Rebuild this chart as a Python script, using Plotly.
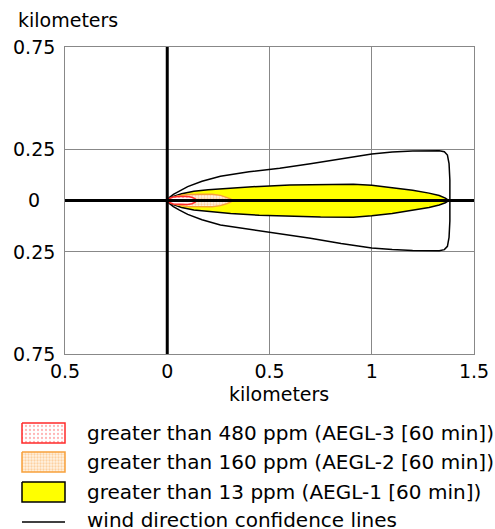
import plotly.graph_objects as go

W, H = 495, 529
FONT = "DejaVu Sans"

# ---------------- data (kilometers) ----------------
x_tickvals = [-0.5, 0, 0.5, 1, 1.5]
x_ticktext = ["0.5", "0", "0.5", "1", "1.5"]
y_tickvals = [0.75, 0.25, 0, -0.25, -0.75]
y_ticktext = ["0.75", "0.25", "0", "0.25", "0.75"]

# wind direction confidence lines
conf_top_x = [0, 0.01, 0.03, 0.06, 0.1, 0.17, 0.26, 0.4, 0.55, 0.7, 0.85, 1.0, 1.1, 1.2, 1.33, 1.355, 1.37, 1.378, 1.382, 1.383]
conf_top_y = [0, 0.014, 0.03, 0.047, 0.068, 0.094, 0.118, 0.14, 0.158, 0.18, 0.205, 0.227, 0.237, 0.242, 0.243, 0.238, 0.222, 0.18, 0.1, 0]
conf_bot_x = [0, 0.01, 0.03, 0.06, 0.1, 0.17, 0.26, 0.4, 0.55, 0.7, 0.85, 1.0, 1.1, 1.2, 1.33, 1.355, 1.37, 1.378, 1.382, 1.383]
conf_bot_y = [0, -0.014, -0.03, -0.047, -0.068, -0.094, -0.12, -0.143, -0.162, -0.184, -0.21, -0.232, -0.24, -0.244, -0.245, -0.24, -0.224, -0.18, -0.1, 0]

# AEGL-1 (> 13 ppm)
aegl1_top_x = [0, 0.03, 0.07, 0.13, 0.2, 0.31, 0.45, 0.6, 0.75, 0.91, 1.0, 1.1, 1.2, 1.28, 1.33, 1.36, 1.377]
aegl1_top_y = [0, 0.02, 0.033, 0.045, 0.052, 0.06, 0.069, 0.076, 0.079, 0.08, 0.075, 0.064, 0.05, 0.036, 0.024, 0.012, 0]
aegl1_bot_x = [0, 0.03, 0.07, 0.13, 0.2, 0.31, 0.45, 0.6, 0.75, 0.91, 1.0, 1.1, 1.2, 1.28, 1.33, 1.36, 1.377]
aegl1_bot_y = [0, -0.02, -0.034, -0.046, -0.054, -0.063, -0.072, -0.078, -0.081, -0.082, -0.075, -0.063, -0.048, -0.034, -0.022, -0.011, 0]

# AEGL-2 (> 160 ppm)
aegl2_top_x = [0, 0.02, 0.05, 0.1, 0.16, 0.22, 0.26, 0.29, 0.31, 0.32]
aegl2_top_y = [0, 0.013, 0.022, 0.029, 0.031, 0.03, 0.025, 0.016, 0.008, 0]
aegl2_bot_x = [0, 0.02, 0.05, 0.1, 0.16, 0.22, 0.26, 0.29, 0.31, 0.32]
aegl2_bot_y = [0, -0.013, -0.022, -0.029, -0.031, -0.03, -0.025, -0.016, -0.008, 0]

# AEGL-3 (> 480 ppm)
aegl3_top_x = [0, 0.01, 0.03, 0.06, 0.1, 0.12, 0.135, 0.145]
aegl3_top_y = [0, 0.01, 0.017, 0.02, 0.02, 0.016, 0.009, 0]
aegl3_bot_x = [0, 0.01, 0.03, 0.06, 0.1, 0.12, 0.135, 0.145]
aegl3_bot_y = [0, -0.01, -0.017, -0.02, -0.02, -0.016, -0.009, 0]

legend_labels = [
    "greater than 480 ppm (AEGL-3 [60 min])",
    "greater than 160 ppm (AEGL-2 [60 min])",
    "greater than 13 ppm (AEGL-1 [60 min])",
    "wind direction confidence lines",
]

# ---------------- styles ----------------
RED = "#ff2a2a"
ORANGE = "#f7a13c"
YELLOW = "#ffff00"
red_pattern = dict(shape=".", fgcolor="#ff6a6a", bgcolor="white", size=4, solidity=0.25)
orange_pattern = dict(shape=".", fgcolor="#f9b060", bgcolor="#fff3e3", size=3, solidity=0.45)

def closed(tx, ty, bx, by):
    return list(tx) + list(bx[::-1]), list(ty) + list(by[::-1])

fig = go.Figure()

cx, cy = closed(conf_top_x, conf_top_y, conf_bot_x, conf_bot_y)
fig.add_trace(go.Scatter(x=cx, y=cy, mode="lines", line=dict(color="black", width=1.5),
                         xaxis="x", yaxis="y", hoverinfo="skip"))
ax, ay = closed(aegl1_top_x, aegl1_top_y, aegl1_bot_x, aegl1_bot_y)
fig.add_trace(go.Scatter(x=ax, y=ay, mode="lines", fill="toself", fillcolor=YELLOW,
                         line=dict(color="black", width=1.5), xaxis="x", yaxis="y", hoverinfo="skip"))
ax, ay = closed(aegl2_top_x, aegl2_top_y, aegl2_bot_x, aegl2_bot_y)
fig.add_trace(go.Scatter(x=ax, y=ay, mode="lines", fill="toself", fillpattern=orange_pattern,
                         line=dict(color=ORANGE, width=1.5), xaxis="x", yaxis="y", hoverinfo="skip"))
ax, ay = closed(aegl3_top_x, aegl3_top_y, aegl3_bot_x, aegl3_bot_y)
fig.add_trace(go.Scatter(x=ax, y=ay, mode="lines", fill="toself", fillpattern=red_pattern,
                         line=dict(color=RED, width=1.5), xaxis="x", yaxis="y", hoverinfo="skip"))

# ---------------- legend (drawn on a pixel-space overlay axis) ----------------
sw_x0, sw_x1 = 22, 65
rows_y = [433, 462, 492, 520]
sw_h = 20
styles = [
    dict(fillpattern=red_pattern, line=dict(color=RED, width=1.5)),
    dict(fillpattern=orange_pattern, line=dict(color=ORANGE, width=1.5)),
    dict(fillcolor=YELLOW, line=dict(color="black", width=1.5)),
]
for yc, st in zip(rows_y[:3], styles):
    y0, y1 = yc - sw_h / 2, yc + sw_h / 2
    fig.add_trace(go.Scatter(x=[sw_x0, sw_x1, sw_x1, sw_x0, sw_x0], y=[y0, y0, y1, y1, y0],
                             mode="lines", fill="toself", xaxis="x3", yaxis="y3",
                             hoverinfo="skip", **st))
fig.add_trace(go.Scatter(x=[sw_x0, sw_x1], y=[rows_y[3] + 2, rows_y[3] + 2], mode="lines",
                         line=dict(color="black", width=1.5), xaxis="x3", yaxis="y3", hoverinfo="skip"))

annotations = []
for yc, lab in zip(rows_y, legend_labels):
    annotations.append(dict(x=85, y=yc, xref="x3", yref="y3", text=lab, showarrow=False,
                            xanchor="left", yanchor="middle", font=dict(size=20, color="black", family=FONT)))

# axis titles
annotations.append(dict(x=16, y=20, xref="x3", yref="y3", text="kilometers", showarrow=False,
                        xanchor="left", yanchor="middle", font=dict(size=19, color="black", family=FONT)))
annotations.append(dict(x=279, y=394, xref="x3", yref="y3", text="kilometers", showarrow=False,
                        xanchor="center", yanchor="middle", font=dict(size=19, color="black", family=FONT)))
# y tick labels (centered, as in the reference)
for v, t in zip(y_tickvals, y_ticktext):
    annotations.append(dict(x=34 / W, y=v, xref="paper", yref="y", text=t, showarrow=False,
                            xanchor="center", yanchor="middle", font=dict(size=19, color="black", family=FONT)))

shapes = [
    dict(type="line", xref="x", yref="y domain", x0=0, x1=0, y0=0, y1=1,
         line=dict(color="black", width=3), layer="above"),
    dict(type="line", xref="x domain", yref="y", x0=0, x1=1, y0=0, y1=0,
         line=dict(color="black", width=3), layer="above"),
]

fig.update_layout(
    width=W, height=H,
    margin=dict(l=0, r=0, t=0, b=0, pad=0),
    paper_bgcolor="white", plot_bgcolor="rgba(0,0,0,0)",
    showlegend=False,
    font=dict(family=FONT, size=19, color="black"),
    xaxis=dict(domain=[65 / W, 474 / W], range=[-0.5, 1.5], tickvals=x_tickvals, ticktext=x_ticktext,
               showgrid=True, gridcolor="#888888", gridwidth=1, zeroline=False,
               showline=True, linecolor="#888888", linewidth=1, mirror=True, ticks="",
               automargin=False, anchor="y", tickfont=dict(size=19, color="black")),
    yaxis=dict(domain=[(H - 354) / H, (H - 47) / H], range=[-0.75, 0.75], tickvals=y_tickvals,
               showticklabels=False, showgrid=True, gridcolor="#888888", gridwidth=1, zeroline=False,
               showline=True, linecolor="#888888", linewidth=1, mirror=True, ticks="",
               automargin=False, anchor="x"),
    xaxis3=dict(domain=[0, 1], range=[0, W], visible=False, anchor="y3", fixedrange=True),
    yaxis3=dict(domain=[0, 1], range=[H, 0], visible=False, anchor="x3", fixedrange=True),
    annotations=annotations,
    shapes=shapes,
)

fig.write_html("out.html")
